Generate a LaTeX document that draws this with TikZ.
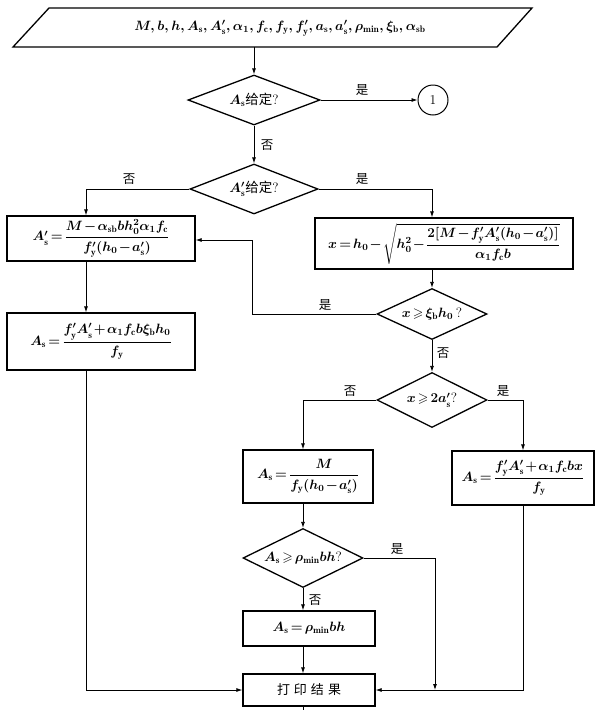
\RequirePackage{fix-cm}
\documentclass[tikz,border=0pt]{standalone}
\usepackage{amsmath,amssymb}
\usepackage{fontspec}
\newfontfamily\cjk{Noto Sans CJK SC}
\usetikzlibrary{shapes.geometric,arrows.meta,calc}
\medmuskip=1.5mu plus 1mu
\thickmuskip=2.5mu plus 1mu
\begin{document}
\begin{tikzpicture}[x=1pt,y=-1pt,
  every node/.style={font=\fontsize{13.5}{16}\selectfont\boldmath},
  box/.style={draw,line width=1.3pt,rectangle,inner sep=0pt},
  dia/.style={draw,line width=1.3pt,diamond,aspect=2.5,inner sep=0pt},
  con/.style={line width=0.8pt},
  arr/.style={con,-{Latex[length=6pt,width=4pt]}},
  lbl/.style={font=\fontsize{12.5}{14}\selectfont\cjk,inner sep=1pt}]
\fill[white] (0,0) rectangle (604,710);
\path[use as bounding box] (0,0) rectangle (604,710);

% input
\draw[line width=1.3pt] (49,8) -- (532,8) -- (497,47) -- (13,47) -- cycle;
\node (inp) at (280,28) {$M,b,h,A_{\rm s},A'_{\rm s},\alpha_1,f_{\rm c},f_{\rm y},f'_{\rm y},a_{\rm s},a'_{\rm s},\rho_{\min},\xi_{\rm b},\alpha_{\rm sb}$};
\coordinate (pb) at (254,47);

% decisions and boxes
\node[dia,minimum width=132pt,minimum height=50pt] (d1) at (254,100) {$A_{\rm s}${\cjk 给定}?};
\node[draw,circle,line width=1pt,minimum size=30pt,inner sep=0pt,font=\fontsize{13.5}{16}\selectfont] (c1) at (433,100) {1};
\node[dia,minimum width=128pt,minimum height=50pt] (d2) at (254,189) {$A'_{\rm s}${\cjk 给定}?};

\node[box,minimum width=188pt,minimum height=45pt] (bA) at (101,238.5)
  {$A'_{\rm s}=\dfrac{M-\alpha_{\rm sb}bh_0^2\alpha_1f_{\rm c}}{f'_{\rm y}(h_0-a'_{\rm s})}$};
\node[box,minimum width=258pt,minimum height=51pt] (bB) at (444,243.5)
  {$x=h_0-\sqrt{h_0^2-\dfrac{2[M-f'_{\rm y}A'_{\rm s}(h_0-a'_{\rm s})]}{\alpha_1f_{\rm c}b}}$};
\node[dia,minimum width=110pt,minimum height=51pt] (d3) at (432,314) {$x\geqslant\xi_{\rm b}h_0\,$?};
\node[box,minimum width=188pt,minimum height=57pt] (bC) at (101,341.5)
  {$A_{\rm s}=\dfrac{f'_{\rm y}A'_{\rm s}+\alpha_1f_{\rm c}b\xi_{\rm b}h_0}{f_{\rm y}}$};
\node[dia,minimum width=110pt,minimum height=55pt] (d4) at (432,400) {$x\geqslant2a'_{\rm s}$?};
\node[box,minimum width=130pt,minimum height=53pt] (bD) at (308,476.5)
  {$A_{\rm s}=\dfrac{M}{f_{\rm y}(h_0-a'_{\rm s})}$};
\node[box,minimum width=142pt,minimum height=54pt] (bE) at (523,478)
  {$A_{\rm s}=\dfrac{f'_{\rm y}A'_{\rm s}+\alpha_1f_{\rm c}bx}{f_{\rm y}}$};
\node[dia,minimum width=120pt,minimum height=59pt] (d5) at (303,558) {$A_{\rm s}\geqslant\rho_{\min}bh$?};
\node[box,minimum width=132pt,minimum height=35pt] (bF) at (309,628.5) {$A_{\rm s}=\rho_{\min}bh$};
\node[box,minimum width=132pt,minimum height=32pt,font=\fontsize{13}{15}\selectfont\cjk] (P) at (309,690) {打\hspace{4pt}印\hspace{4pt}结\hspace{4pt}果};

% helper coordinates
\coordinate (kA) at (86,189);
\coordinate (kB) at (432,189);
\coordinate (kR1) at (252,314);
\coordinate (kR2) at (252,240);
\coordinate (kL) at (86,690);
\coordinate (kD) at (303,400);
\coordinate (kE) at (523,400);
\coordinate (kY) at (435,558);
\coordinate (kY2) at (435,690);
\coordinate (kend) at (303,710);

% connectors
\draw[arr] (pb) -- (d1.north);
\draw[arr] (d1.east) -- (c1.west);
\draw[arr] (d1.south) -- (d2.north);
\draw[arr] (d2.west) -- (kA) -- (kA |- bA.north);
\draw[arr] (d2.east) -- (kB) -- (kB |- bB.north);
\draw[arr] (kB |- bB.south) -- (d3.north);
\draw[arr] (d3.west) -- (kR1) -- (kR2) -- (bA.east |- kR2);
\draw[arr] (kA |- bA.south) -- (kA |- bC.north);
\draw[arr] (kA |- bC.south) -- (kL) -- (P.west);
\draw[arr] (d3.south) -- (d4.north);
\draw[arr] (d4.west) -- (kD) -- (kD |- bD.north);
\draw[arr] (d4.east) -- (kE) -- (kE |- bE.north);
\draw[arr] (kD |- bD.south) -- (d5.north);
\draw[arr] (d5.east) -- (kY) -- (kY2);
\draw[arr] (d5.south) -- (kD |- bF.north);
\draw[arr] (kD |- bF.south) -- (kD |- P.north);
\draw[arr] (kE |- bE.south) -- (kE |- P.east) -- (P.east);
\draw[con] (kD |- P.south) -- (kend);

% labels
\node[lbl] at (362,90) {是};
\node[lbl] at (267,145) {否};
\node[lbl] at (129,179) {否};
\node[lbl] at (362,179) {是};
\node[lbl] at (325,305) {是};
\node[lbl] at (443,353) {否};
\node[lbl] at (350,391) {否};
\node[lbl] at (503,391) {是};
\node[lbl] at (397,549) {是};
\node[lbl] at (315,600) {否};
\end{tikzpicture}
\end{document}
